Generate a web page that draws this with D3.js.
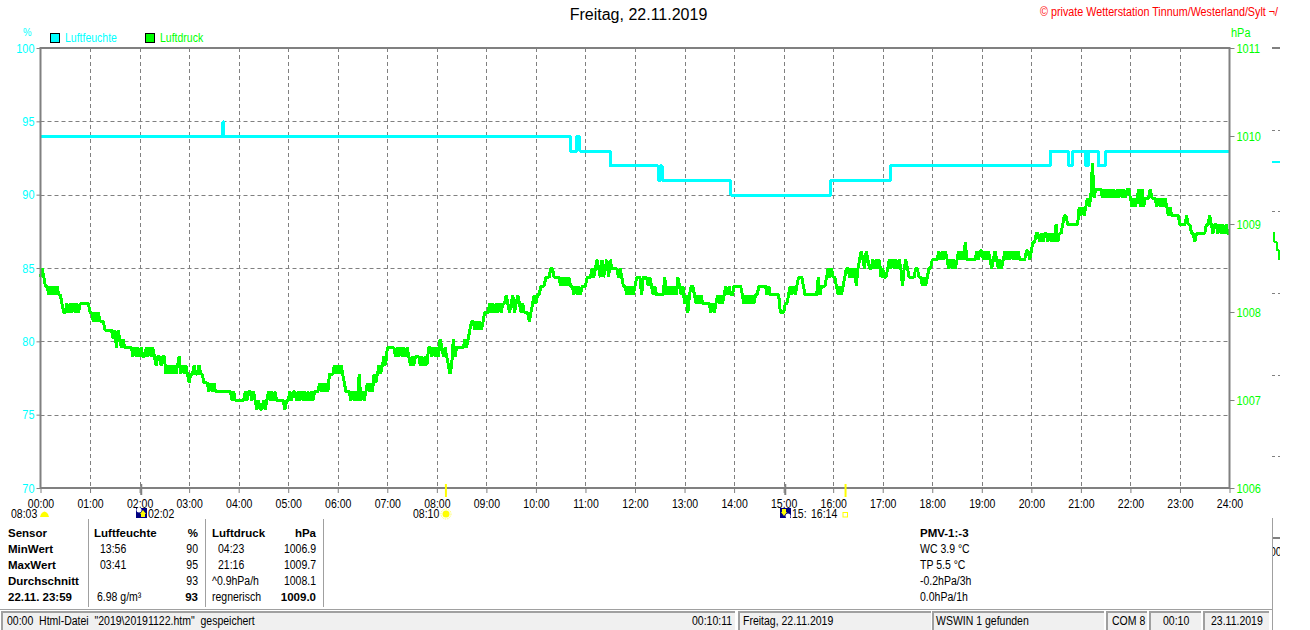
<!DOCTYPE html>
<html>
<head>
<meta charset="utf-8">
<title>Freitag, 22.11.2019</title>
<script src="https://cdn.jsdelivr.net/npm/d3@7"></script>
<style>
  body { margin: 0; background: #fff; }
  svg { display: block; }
  text { font-family: "Liberation Sans", Arial, sans-serif; font-size: 12px; fill: #000; white-space: pre; }
  .bold { font-weight: bold; font-size: 11.5px; }
  .axis path { display: none; }
  .axis line { stroke: #808080; }
  .series { fill: none; shape-rendering: crispEdges; stroke-linejoin: bevel; }
</style>
</head>
<body>
<svg id="chart" width="1310" height="630"></svg>
<script>
const hourLabels = ["00:00","01:00","02:00","03:00","04:00","05:00","06:00","07:00","08:00","09:00","10:00","11:00","12:00","13:00","14:00","15:00","16:00","17:00","18:00","19:00","20:00","21:00","22:00","23:00","24:00"];
const humidityTicks = [70, 75, 80, 85, 90, 95, 100];
const pressureTicks = [1006, 1007, 1008, 1009, 1010, 1011];

// humidity steps: minute of day + percent
const humidityMinutes = [0, 221, 222, 642, 649, 653, 690, 748, 751, 753, 836, 957, 1029, 1223, 1245, 1250, 1266, 1269, 1281, 1290, 1440];
const humidityValues = [94, 95, 94, 93, 94, 93, 92, 91, 92, 91, 90, 91, 92, 93, 92, 93, 92, 93, 92, 93, 93];

// pressure in hPa above 1000, one reading every 2 minutes, one line per hour
const pressureValues = [
  8.4,8.5,8.4,8.3,8.3,8.2,8.3,8.2,8.3,8.2,8.3,8.2,8.2,8.1,8.0,8.0,8.1,8.0,8.1,8.0,8.1,8.0,8.1,8.0,8.1,8.1,8.1,8.1,8.1,8.1,
  8.0,8.0,7.9,8.0,7.9,8.0,7.9,7.9,7.9,7.8,7.8,7.8,7.8,7.8,7.7,7.8,7.6,7.8,7.7,7.6,7.7,7.6,7.6,7.6,7.6,7.6,7.5,7.6,7.5,7.6,
  7.5,7.6,7.5,7.5,7.6,7.5,7.6,7.5,7.6,7.5,7.4,7.5,7.5,7.4,7.5,7.5,7.3,7.4,7.3,7.4,7.3,7.4,7.3,7.4,7.5,7.3,7.4,7.3,7.4,7.3,
  7.2,7.3,7.3,7.4,7.3,7.3,7.4,7.3,7.3,7.2,7.2,7.2,7.1,7.2,7.1,7.2,7.1,7.1,7.1,7.1,7.1,7.1,7.1,7.1,7.1,7.1,7.0,7.1,7.0,7.0,
  7.0,7.0,7.0,7.0,7.1,7.0,7.1,7.1,7.0,7.1,7.0,6.9,7.0,6.9,6.9,7.0,6.9,7.0,7.1,7.0,7.1,7.0,7.1,7.0,7.0,7.0,7.0,7.0,6.9,7.0,
  7.0,7.1,7.0,7.1,7.1,7.0,7.1,7.0,7.1,7.0,7.1,7.0,7.1,7.0,7.1,7.0,7.1,7.1,7.1,7.2,7.1,7.2,7.1,7.2,7.1,7.3,7.3,7.3,7.4,7.3,
  7.4,7.3,7.4,7.3,7.2,7.1,7.1,7.1,7.0,7.1,7.0,7.1,7.0,7.3,7.0,7.1,7.0,7.1,7.2,7.1,7.2,7.1,7.3,7.2,7.3,7.4,7.3,7.4,7.5,7.4,
  7.6,7.6,7.6,7.6,7.6,7.5,7.6,7.5,7.6,7.5,7.6,7.5,7.6,7.5,7.4,7.5,7.4,7.5,7.5,7.5,7.4,7.5,7.4,7.5,7.4,7.6,7.6,7.5,7.6,7.5,
  7.6,7.5,7.7,7.6,7.5,7.6,7.5,7.4,7.3,7.4,7.7,7.5,7.6,7.6,7.6,7.6,7.6,7.7,7.6,7.7,7.8,7.9,7.9,7.8,7.9,7.8,7.9,7.8,7.9,8.0,
  8.0,8.0,8.1,8.0,8.1,8.0,8.1,8.0,8.1,8.0,8.1,8.1,8.2,8.1,8.0,8.1,8.2,8.0,8.1,8.2,8.1,8.0,8.1,8.0,8.0,8.0,7.9,8.0,8.1,8.2,
  8.1,8.2,8.2,8.3,8.3,8.3,8.4,8.4,8.4,8.5,8.5,8.4,8.4,8.4,8.4,8.3,8.4,8.3,8.4,8.3,8.4,8.3,8.3,8.2,8.3,8.2,8.3,8.2,8.3,8.3,
  8.3,8.4,8.4,8.4,8.5,8.4,8.5,8.6,8.5,8.4,8.6,8.4,8.5,8.6,8.4,8.6,8.5,8.5,8.5,8.5,8.4,8.5,8.4,8.3,8.3,8.2,8.3,8.2,8.3,8.2,
  8.3,8.4,8.4,8.4,8.2,8.4,8.4,8.4,8.3,8.4,8.3,8.2,8.3,8.2,8.2,8.2,8.2,8.2,8.4,8.2,8.3,8.2,8.3,8.2,8.3,8.2,8.4,8.3,8.2,8.3,
  8.1,8.2,8.0,8.2,8.3,8.3,8.2,8.1,8.2,8.1,8.2,8.1,8.1,8.1,8.1,8.1,8.0,8.1,8.0,8.1,8.2,8.1,8.2,8.1,8.2,8.3,8.2,8.3,8.2,8.2,
  8.3,8.3,8.3,8.3,8.3,8.2,8.1,8.2,8.1,8.2,8.1,8.2,8.1,8.2,8.2,8.3,8.3,8.3,8.3,8.3,8.2,8.3,8.2,8.2,8.2,8.2,8.2,8.2,8.0,8.0,
  8.0,8.1,8.1,8.2,8.3,8.2,8.3,8.2,8.3,8.4,8.4,8.4,8.3,8.2,8.2,8.2,8.2,8.2,8.2,8.2,8.2,8.4,8.2,8.3,8.3,8.3,8.4,8.5,8.4,8.5,
  8.4,8.4,8.3,8.2,8.3,8.2,8.3,8.4,8.5,8.5,8.4,8.5,8.4,8.5,8.3,8.5,8.6,8.7,8.6,8.5,8.7,8.6,8.5,8.5,8.6,8.5,8.6,8.5,8.6,8.4,
  8.5,8.4,8.4,8.5,8.6,8.5,8.6,8.5,8.6,8.5,8.6,8.5,8.3,8.5,8.6,8.5,8.4,8.4,8.4,8.4,8.5,8.5,8.4,8.4,8.3,8.4,8.3,8.4,8.5,8.5,
  8.6,8.6,8.6,8.6,8.7,8.6,8.7,8.6,8.7,8.6,8.5,8.6,8.5,8.6,8.5,8.6,8.7,8.6,8.7,8.6,8.8,8.6,8.6,8.6,8.6,8.6,8.6,8.7,8.6,8.7,
  8.7,8.6,8.7,8.6,8.7,8.6,8.5,8.6,8.7,8.6,8.5,8.6,8.5,8.6,8.7,8.6,8.7,8.6,8.7,8.6,8.7,8.6,8.7,8.6,8.6,8.6,8.6,8.7,8.7,8.6,
  8.7,8.8,8.8,8.9,8.9,8.8,8.9,8.8,8.9,8.9,8.8,8.9,8.8,8.9,8.8,9.0,8.8,8.9,8.9,9.0,9.1,9.1,9.0,9.0,9.0,9.0,9.0,9.0,9.0,9.2,
  9.1,9.2,9.1,9.2,9.3,9.2,9.3,9.7,9.3,9.4,9.4,9.4,9.4,9.3,9.4,9.3,9.4,9.3,9.4,9.3,9.4,9.3,9.4,9.3,9.4,9.3,9.4,9.3,9.4,9.4,
  9.3,9.2,9.3,9.2,9.3,9.4,9.2,9.4,9.2,9.3,9.3,9.3,9.4,9.3,9.3,9.3,9.2,9.3,9.2,9.3,9.2,9.3,9.2,9.1,9.2,9.1,9.1,9.1,9.1,9.1,
  9.0,9.0,9.0,9.0,9.1,9.0,9.0,8.9,8.9,8.8,8.9,8.9,8.9,8.9,8.9,8.9,9.0,9.0,9.1,9.0,8.9,9.0,9.0,8.9,9.0,8.9,9.0,8.9,9.0,8.9,
  8.9
];

// the clipped bit of a second chart at the far right of the window
const clippedPressure = [8.9, 8.8, 8.8, 8.7, 8.7, 8.6, 8.6];

const tableRows = [
  ["Sensor", "Luftfeuchte", "", "%", "Luftdruck", "", "hPa", "PMV-1:-3"],
  ["MinWert", "", "13:56", "90", "", "04:23", "1006.9", "WC 3.9 °C"],
  ["MaxWert", "", "03:41", "95", "", "21:16", "1009.7", "TP 5.5 °C"],
  ["Durchschnitt", "", "", "93", "^0.9hPa/h", "", "1008.1", "-0.2hPa/3h"],
  ["22.11. 23:59", "6.98 g/m³", "", "93", "regnerisch", "", "1009.0", "0.0hPa/1h"]
];

const statusPanels = [
  { x0: 1, x1: 735, text: "00:00  Html-Datei  \"2019\\20191122.htm\"  gespeichert", tx: 7 },
  { x0: 738, x1: 931, text: "Freitag, 22.11.2019", tx: 743 },
  { x0: 932, x1: 1104, text: "WSWIN 1 gefunden", tx: 936 },
  { x0: 1106, x1: 1147, text: "COM 8", tx: 1112 },
  { x0: 1149, x1: 1201, text: "00:10", tx: 1163 },
  { x0: 1203, x1: 1269, text: "23.11.2019", tx: 1211 }
];

const CYAN = "#00ffff", GREEN = "#00ff00", GRID = "#808080", YELLOW = "#ffff00";
const svg = d3.select("#chart");

const margin = { top: 48, right: 1229.5, bottom: 488, left: 40.5 };
const x = d3.scaleLinear().domain([0, 1440]).range([margin.left, margin.right]);
const yHum = d3.scaleLinear().domain([70, 100]).range([margin.bottom, margin.top]);
const yPres = d3.scaleLinear().domain([1006, 1011]).range([margin.bottom, margin.top]);
const hourMinutes = hourLabels.map((d, i) => i * 60);

// grid
svg.append("g").selectAll("line").data(hourMinutes.slice(1, -1)).join("line")
  .attr("x1", d => Math.round(x(d)) + 0.5).attr("x2", d => Math.round(x(d)) + 0.5)
  .attr("y1", margin.top).attr("y2", margin.bottom)
  .attr("stroke", GRID).attr("stroke-dasharray", "4 3");
svg.append("g").selectAll("line").data(humidityTicks.slice(1, -1)).join("line")
  .attr("x1", margin.left).attr("x2", margin.right)
  .attr("y1", d => Math.round(yHum(d)) + 0.5).attr("y2", d => Math.round(yHum(d)) + 0.5)
  .attr("stroke", GRID).attr("stroke-dasharray", "4 3");

// axes
const xAxis = svg.append("g").attr("class", "axis")
  .attr("transform", `translate(0,${margin.bottom})`)
  .call(d3.axisBottom(x).tickValues(hourMinutes).tickFormat((d, i) => hourLabels[i]).tickSize(5).tickPadding(6));
xAxis.selectAll("text").attr("fill", "#000").style("font-size", "12px");

const leftAxis = svg.append("g").attr("class", "axis")
  .attr("transform", `translate(${margin.left},0)`)
  .call(d3.axisLeft(yHum).tickValues(humidityTicks).tickSize(4).tickPadding(2));
leftAxis.selectAll("text").style("fill", CYAN).style("font-size", "12.5px");

const rightAxis = svg.append("g").attr("class", "axis")
  .attr("transform", `translate(${margin.right},0)`)
  .call(d3.axisRight(yPres).tickValues(pressureTicks).tickFormat(d3.format("d")).tickSize(5).tickPadding(2));
rightAxis.selectAll("text").style("fill", GREEN).style("font-size", "12.5px");

// series
const stepLine = d3.line().curve(d3.curveStepAfter);
const plainLine = d3.line();
const seriesGroup = svg.append("g").attr("transform", "translate(0,0.5)");
seriesGroup.append("path").attr("class", "series")
  .attr("d", stepLine(humidityValues.map((v, i) => [x(humidityMinutes[i]), yHum(v)])))
  .attr("stroke", CYAN).attr("stroke-width", 3);
seriesGroup.append("path").attr("class", "series")
  .attr("d", plainLine(pressureValues.map((v, i) => [x(i * 2), yPres(1000 + v)])))
  .attr("stroke", GREEN).attr("stroke-width", 3);

// frame
svg.append("rect")
  .attr("x", margin.left).attr("y", margin.top)
  .attr("width", margin.right - margin.left).attr("height", margin.bottom - margin.top)
  .attr("fill", "none").attr("stroke", GRID).attr("stroke-width", 2);

// thicker marks at moon rise/set, yellow at sunrise/sunset
[122, 902].forEach(m => {
  svg.append("rect").attr("x", x(m) - 1).attr("y", 484).attr("width", 2).attr("height", 11).attr("fill", GRID);
});
[491, 975].forEach(m => {
  svg.append("rect").attr("x", x(m) - 1).attr("y", 484).attr("width", 2).attr("height", 13).attr("fill", YELLOW);
});

// header
svg.append("text").attr("class", "wide").attr("x", 638.5).attr("y", 20).attr("text-anchor", "middle").style("font-size", "16px").text("Freitag, 22.11.2019");
svg.append("text").attr("x", 1040).attr("y", 16).style("fill", "#ff0000").style("font-size", "12.3px")
  .text("© private Wetterstation Tinnum/Westerland/Sylt ¬/");
svg.append("text").attr("x", 23).attr("y", 36).style("fill", CYAN).style("font-size", "11px").text("%");
svg.append("text").attr("x", 1231).attr("y", 37).style("fill", GREEN).style("font-size", "12.5px").text("hPa");

// legend
const legend = [["Luftfeuchte", CYAN, 50], ["Luftdruck", GREEN, 145]];
legend.forEach(([name, color, lx]) => {
  svg.append("rect").attr("x", lx + 0.5).attr("y", 33.5).attr("width", 9).attr("height", 9).attr("fill", color).attr("stroke", "#000");
  svg.append("text").attr("x", lx + 15).attr("y", 42).style("fill", color).style("font-size", "12px").text(name);
});

// sun and moon row
const timeRow = [["08:03", 11], ["02:02", 148], ["08:10", 413], ["15:", 792], ["16:14", 811]];
timeRow.forEach(([t, tx]) => svg.append("text").attr("x", tx).attr("y", 518).text(t));
svg.append("path").attr("d", "M40,517 L41,514 Q44.5,509 48,514 L49,517 Z").attr("fill", YELLOW);
svg.append("circle").attr("cx", 446).attr("cy", 514).attr("r", 3.5).attr("fill", YELLOW);
svg.append("circle").attr("cx", 446).attr("cy", 514).attr("r", 5).attr("fill", "none").attr("stroke", YELLOW).attr("stroke-width", 0.6).attr("stroke-dasharray", "1.5 1");
svg.append("rect").attr("x", 843).attr("y", 512.5).attr("width", 4.5).attr("height", 4.5).attr("fill", "none").attr("stroke", YELLOW);
[136, 780].forEach((ix, k) => {
  svg.append("rect").attr("x", ix).attr("y", 508).attr("width", 11).attr("height", 10).attr("fill", "#000080");
  svg.append("circle").attr("cx", ix + (k ? 8 : 3)).attr("cy", k ? 516 : 510).attr("r", 2.5).attr("fill", "#fff");
  svg.append("path").attr("d", k ? `M${ix + 2},509 h4 v3 h1 l-3,4 l-3,-4 h1 z` : `M${ix + 7},510 l3,4 h-1 v3 h-4 v-3 h-1 z`).attr("fill", YELLOW);
});

// sensor table
const colX = [8, 94, 100, 198, 212, 218, 316, 920];
const colAnchor = ["start", "start", "start", "end", "start", "start", "end", "start"];
tableRows.forEach((row, r) => {
  row.forEach((cell, c) => {
    if (!cell) return;
    const bold = r === 0 || c === 0 || (r === 4 && (c === 3 || c === 6));
    let cx = colX[c];
    if (r === 4 && c === 1) cx = 97;
    svg.append("text").attr("x", cx).attr("y", 537 + r * 16)
      .attr("text-anchor", colAnchor[c]).attr("class", bold && !(c === 7 && r > 0) ? "bold" : null).text(cell);
  });
});
[88, 205, 323].forEach(sx => {
  svg.append("rect").attr("x", sx).attr("y", 519).attr("width", 1).attr("height", 88).attr("fill", "#a0a0a0");
});

// status bar
svg.append("rect").attr("x", 0).attr("y", 609).attr("width", 1272).attr("height", 1).attr("fill", "#a0a0a0");
statusPanels.forEach(p => {
  svg.append("rect").attr("x", p.x0).attr("y", 611).attr("width", p.x1 - p.x0).attr("height", 19).attr("fill", "#f0f0f0");
  svg.append("rect").attr("x", p.x0).attr("y", 611).attr("width", p.x1 - p.x0).attr("height", 2).attr("fill", "#a0a0a0");
  svg.append("rect").attr("x", p.x0).attr("y", 611).attr("width", 2).attr("height", 19).attr("fill", "#a0a0a0");
  svg.append("text").attr("x", p.tx).attr("y", 625).text(p.text);
});
svg.append("text").attr("x", 692).attr("y", 625).text("00:10:11");

// clipped window at the far right
svg.append("rect").attr("x", 1272).attr("y", 518).attr("width", 1).attr("height", 112).attr("fill", "#a0a0a0");
svg.append("rect").attr("x", 1273).attr("y", 537).attr("width", 7).attr("height", 2).attr("fill", GRID);
svg.append("rect").attr("x", 1272).attr("y", 47).attr("width", 8).attr("height", 2).attr("fill", GRID);
svg.append("rect").attr("x", 1272).attr("y", 161).attr("width", 8).attr("height", 2).attr("fill", CYAN);
[130, 211, 293, 375, 456].forEach(dy => {
  svg.append("line").attr("x1", 1272).attr("x2", 1280).attr("y1", dy + 0.5).attr("y2", dy + 0.5)
    .attr("stroke", GRID).attr("stroke-dasharray", "3 3");
});
const xClip = d3.scaleLinear().domain([0, clippedPressure.length - 1]).range([1273, 1280]);
svg.append("path").attr("class", "series")
  .attr("d", stepLine(clippedPressure.map((v, i) => [xClip(i), yPres(1000 + v)])))
  .attr("stroke", GREEN).attr("stroke-width", 2);
svg.append("clipPath").attr("id", "edge").append("rect").attr("x", 1273).attr("y", 540).attr("width", 7).attr("height", 20);
svg.append("text").attr("x", 1270).attr("y", 556).attr("clip-path", "url(#edge)").text("00");

// the original window font is narrower than Liberation Sans, squeeze the plain texts
svg.selectAll("text").each(function () {
  if (this.classList.contains("bold") || this.classList.contains("wide")) return;
  d3.select(this)
    .attr("textLength", this.getComputedTextLength() * 0.875)
    .attr("lengthAdjust", "spacingAndGlyphs");
});
</script>
</body>
</html>
